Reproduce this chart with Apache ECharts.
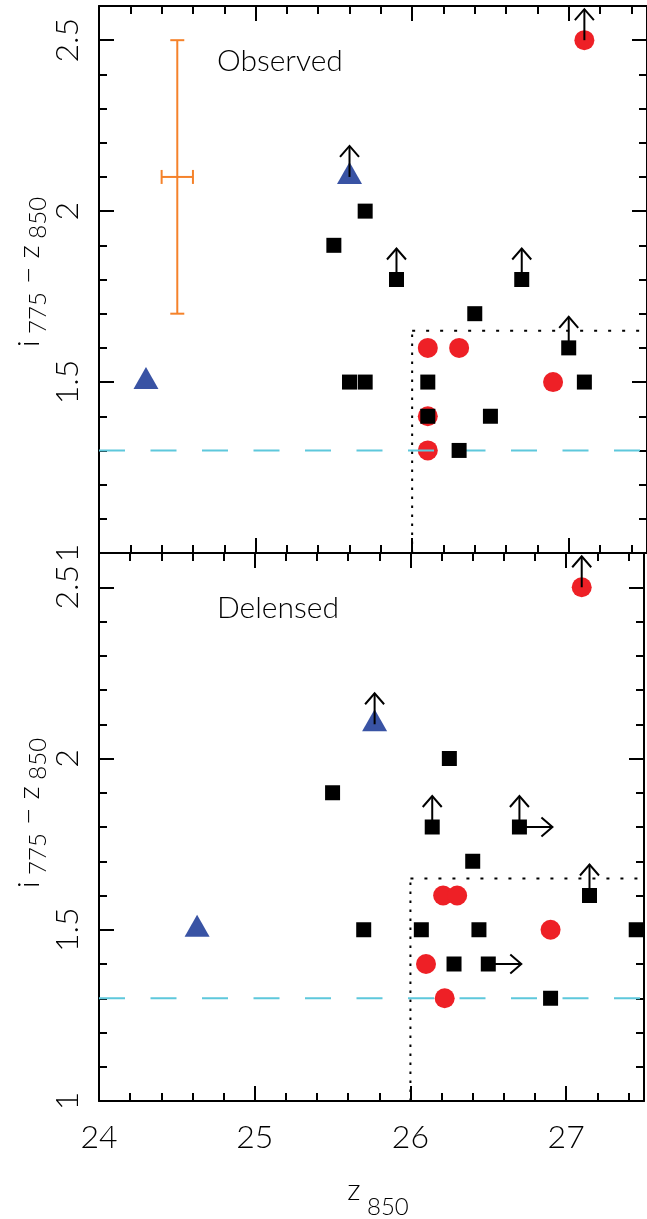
<!DOCTYPE html>
<html>
<head>
<meta charset="utf-8">
<title>i775 - z850 against z850</title>
<script src="https://cdn.jsdelivr.net/npm/echarts@6/dist/echarts.min.js"></script>
<style>
html, body { margin: 0; padding: 0; background: #fff; }
#main { width: 647px; height: 1219px; }
</style>
</head>
<body>
<div id="main"></div>
<script>
// axis ranges / ticks
var xMin = 24, xMax = 27.5, xMajor = 1, xMinor = 0.2;
var yMin = 1.0, yMax = 2.6, yMajor = 0.5, yMinor = 0.1;

// selection cuts
var colourCut = 1.3;
var regionZ = 26, regionColour = 1.65;

var panelNames = ['Observed', 'Delensed'];

// observed panel
var obsCircles = [[27.1, 2.5], [26.1, 1.6], [26.3, 1.6], [26.9, 1.5], [26.1, 1.4], [26.1, 1.3]];
var obsSquares = [[25.7, 2.0], [25.5, 1.9], [25.9, 1.8], [26.7, 1.8], [26.4, 1.7], [27.0, 1.6],
  [25.6, 1.5], [25.7, 1.5], [26.1, 1.5], [27.1, 1.5], [26.1, 1.4], [26.5, 1.4], [26.3, 1.3]];
var obsTriangles = [[25.6, 2.1], [24.3, 1.5]];
var obsUp = [[27.1, 2.5], [25.6, 2.1], [25.9, 1.8], [26.7, 1.8], [27.0, 1.6]];
var obsRight = [];

// delensed panel
var delCircles = [[27.1, 2.5], [26.21, 1.6], [26.3, 1.6], [26.9, 1.5], [26.1, 1.4], [26.22, 1.3]];
var delSquares = [[26.25, 2.0], [25.5, 1.9], [26.14, 1.8], [26.7, 1.8], [26.4, 1.7], [27.15, 1.6],
  [25.7, 1.5], [26.07, 1.5], [26.44, 1.5], [27.45, 1.5], [26.28, 1.4], [26.5, 1.4], [26.9, 1.3]];
var delTriangles = [[25.77, 2.1], [24.63, 1.5]];
var delUp = [[27.1, 2.5], [25.77, 2.1], [26.14, 1.8], [26.7, 1.8], [27.15, 1.6]];
var delRight = [[26.7, 1.8], [26.5, 1.4]];

// typical error bar: x, y, xerr, yerr
var errBar = [[24.5, 2.1, 0.1, 0.4]];

var FONT = 'Lato';
var W = '300';
var chart = echarts.init(document.getElementById('main'));

var black = {color: '#000', width: 2};

function xAxesFor(g) {
  var defs = [['bottom', xMajor, 15], ['bottom', xMinor, 8], ['top', xMajor, 15], ['top', xMinor, 8]];
  return defs.map(function (d, i) {
    return {
      type: 'value', gridIndex: g, position: d[0], min: xMin, max: xMax, interval: d[1],
      splitLine: {show: false},
      axisLine: {show: d[1] === xMajor, onZero: false, lineStyle: black},
      axisTick: {inside: true, length: d[2], lineStyle: black},
      axisLabel: {
        show: g === 1 && i === 0, margin: 21, color: '#000',
        fontFamily: FONT, fontWeight: W, fontSize: 32,
        formatter: function (v) { return Math.abs(v - Math.round(v)) < 1e-6 ? String(Math.round(v)) : ''; }
      }
    };
  });
}

function yAxesFor(g) {
  var defs = [['left', yMajor, 15], ['left', yMinor, 8], ['right', yMajor, 15], ['right', yMinor, 8]];
  return defs.map(function (d, i) {
    return {
      type: 'value', gridIndex: g, position: d[0], min: yMin, max: yMax, interval: d[1],
      splitLine: {show: false},
      axisLine: {show: d[1] === yMajor, onZero: false, lineStyle: black},
      axisTick: {inside: true, length: d[2], lineStyle: black},
      axisLabel: {
        show: i === 0, rotate: 90, margin: 15, color: '#000',
        fontFamily: FONT, fontWeight: W, fontSize: 32,
        formatter: function (v) { return Math.abs(v * 2 - Math.round(v * 2)) < 1e-6 ? String(v) : ''; }
      }
    };
  });
}

function arrow(dir) {
  return function (params, api) {
    var p = api.coord([api.value(0), api.value(1)]);
    var tip, head;
    if (dir === 'up') {
      tip = [p[0], p[1] - 31];
      head = [[tip[0] - 9.5, tip[1] + 11], tip, [tip[0] + 9.5, tip[1] + 11]];
    } else {
      tip = [p[0] + 33, p[1]];
      head = [[tip[0] - 11, tip[1] - 9.5], tip, [tip[0] - 11, tip[1] + 9.5]];
    }
    var st = {stroke: '#000', lineWidth: 2, fill: 'none'};
    return {type: 'group', children: [
      {type: 'line', shape: {x1: p[0], y1: p[1], x2: tip[0], y2: tip[1]}, style: st},
      {type: 'polyline', shape: {points: head}, style: st}
    ]};
  };
}

function errRender(params, api) {
  var x = api.value(0), y = api.value(1), dx = api.value(2), dy = api.value(3);
  var t = api.coord([x, y + dy]), b = api.coord([x, y - dy]);
  var l = api.coord([x - dx, y]), r = api.coord([x + dx, y]);
  var cap = 7, st = {stroke: '#f5822a', lineWidth: 2, fill: 'none'};
  function seg(x1, y1, x2, y2) { return {type: 'line', shape: {x1: x1, y1: y1, x2: x2, y2: y2}, style: st}; }
  return {type: 'group', children: [
    seg(t[0], t[1], b[0], b[1]),
    seg(t[0] - cap, t[1], t[0] + cap, t[1]),
    seg(b[0] - cap, b[1], b[0] + cap, b[1]),
    seg(l[0], l[1], r[0], r[1]),
    seg(l[0], l[1] - cap, l[0], l[1] + cap),
    seg(r[0], r[1] - cap, r[0], r[1] + cap)
  ]};
}

function panelSeries(g, circles, squares, triangles, up, right) {
  var ax = {xAxisIndex: 4 * g, yAxisIndex: 4 * g};
  function s(o) { return Object.assign({}, ax, {silent: true, animation: false}, o); }
  var list = [
    s({type: 'line', data: [[xMin, colourCut], [xMax, colourCut]], symbol: 'none', z: 3,
      lineStyle: {color: '#5ec8dc', width: 2, type: [26, 25.5]}}),
    s({type: 'line', data: [[regionZ, yMin], [regionZ, regionColour]], symbol: 'none', z: 1,
      lineStyle: {color: '#000', width: 2, type: [2.5, 6.5]}}),
    s({type: 'line', data: [[regionZ, regionColour], [xMax, regionColour]], symbol: 'none', z: 1,
      lineStyle: {color: '#000', width: 2, type: [3, 11]}}),
    s({type: 'scatter', data: circles, symbol: 'circle', symbolSize: 20, z: 2,
      itemStyle: {color: '#ee2026', opacity: 1}}),
    s({type: 'scatter', data: squares, symbol: 'rect', symbolSize: 15, z: 4,
      itemStyle: {color: '#000', opacity: 1}}),
    s({type: 'scatter', data: triangles, symbol: 'triangle', symbolSize: [25, 22], symbolOffset: [0, -4], z: 4,
      itemStyle: {color: '#3953a4', opacity: 1}}),
    s({type: 'custom', data: up, renderItem: arrow('up'), encode: {x: 0, y: 1}, z: 5}),
    s({type: 'custom', data: right, renderItem: arrow('right'), encode: {x: 0, y: 1}, z: 5})
  ];
  if (g === 0) {
    list.push(s({type: 'custom', data: errBar, renderItem: errRender, encode: {x: 0, y: 1}, z: 5}));
  }
  return list;
}

// text with subscripts, laid out along a line
var mctx = document.createElement('canvas').getContext('2d');
function textWidth(t, size) {
  mctx.font = W + ' ' + size + 'px ' + FONT;
  return mctx.measureText(t).width;
}
function subLabel(parts, mainSize, subSize, drop) {
  var total = 0;
  parts.forEach(function (p) { total += textWidth(p[0], p[1] ? subSize : mainSize); });
  var x = -total / 2;
  return parts.map(function (p) {
    var size = p[1] ? subSize : mainSize;
    var el = {type: 'text', x: x, y: p[1] ? drop : 0, style: {
      text: p[0], font: W + ' ' + size + 'px ' + FONT, fill: '#000',
      align: 'left', verticalAlign: 'middle', textAlign: 'left', textVerticalAlign: 'middle'}};
    x += textWidth(p[0], size);
    return el;
  });
}

var yName = [['i', 0], [' 775', 1], [' \u2212 z', 0], [' 850', 1]];
var xName = [['z', 0], [' 850', 1]];

var graphics = [
  {type: 'group', x: 29, y: 272, rotation: Math.PI / 2, children: subLabel(yName, 30, 24, 9)},
  {type: 'group', x: 29, y: 813, rotation: Math.PI / 2, children: subLabel(yName, 30, 24, 9)},
  {type: 'group', x: 378, y: 1190, children: subLabel(xName, 30, 24, 17)}
];
panelNames.forEach(function (n, i) {
  graphics.push({type: 'text', x: 217, y: 61 + 547 * i, style: {
    text: n, font: W + ' 30px ' + FONT, fill: '#000',
    verticalAlign: 'middle', textVerticalAlign: 'middle'}});
});

chart.setOption({
  animation: false,
  grid: [
    {left: 99, top: 6, width: 548, height: 547},
    {left: 99, top: 553, width: 548, height: 548}
  ],
  xAxis: xAxesFor(0).concat(xAxesFor(1)),
  yAxis: yAxesFor(0).concat(yAxesFor(1)),
  series: panelSeries(0, obsCircles, obsSquares, obsTriangles, obsUp, obsRight)
    .concat(panelSeries(1, delCircles, delSquares, delTriangles, delUp, delRight)),
  graphic: graphics
});
</script>
</body>
</html>
